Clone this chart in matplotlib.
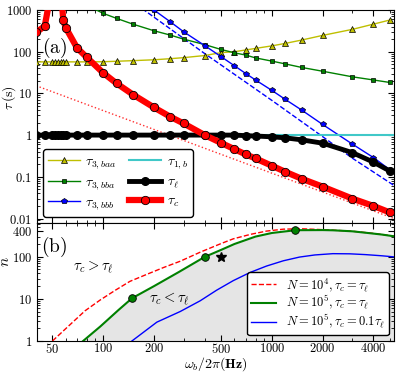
import numpy as np
import matplotlib
matplotlib.use('Agg')
import matplotlib.pyplot as plt
from matplotlib.ticker import FixedLocator, FuncFormatter, NullFormatter

plt.rcParams['mathtext.fontset'] = 'cm'
plt.rcParams['font.family'] = 'serif'
plt.rcParams['font.serif'] = ['DejaVu Serif']
plt.rcParams['axes.unicode_minus'] = False

nan = np.nan

# ---------------- panel (a) data ----------------
freq = [40, 45, 50, 52, 54, 56, 58, 60, 70, 80, 100, 120, 150, 200, 250, 300,
        400, 500, 600, 700, 800, 1000, 1200, 1500, 2000, 3000, 4000, 5000]
tau3_baa = [57, 57, 57, 57, 57, 57, 57, 57, 57, 57, 57.5, 59, 61, 64, 68, 72,
            81, 95, 100, 110, 120, 138, 158, 190, 246, 343, 458, 574]
tau3_bba = [nan, nan, nan, nan, nan, nan, nan, nan, nan, 1300, 830, 630, 458, 318, 250, 200,
            148, 113, 94, 83, 71, 59.5, 51, 42, 34, 25, 21, 18.3]
tau3_bbb = [nan, nan, nan, nan, nan, nan, nan, nan, nan, nan, nan, nan, nan, 1000, 521, 300,
            140, 76, 46, 30, 21, 11.8, 7.2, 4.0, 1.8, 0.61, 0.29, 0.148]
tau_l = [1, 1, 1, 1, 1, 1, 1, 1, 1, 1, 1, 1, 1, 1, 1, 1,
         1, 1, 1, 0.97, 0.95, 0.91, 0.86, 0.77, 0.64, 0.38, 0.225, 0.138]
tau_c = [290, 410, 4000, 30000, 30000, 3000, 575, 375, 123, 73, 31, 17.4, 9.4, 4.6, 2.75, 1.9,
         1.0, 0.65, 0.46, 0.345, 0.276, 0.184, 0.132, 0.09, 0.058, 0.030, 0.020, 0.014]
f_tau1b = [40, 5300]
tau1_b = [1, 1]
f_dash = [170, 400, 1000, 2000, 3000, 5300]
tau3_bbb_asym = [1080, 90, 6.8, 0.92, 0.28, 0.062]
f_dot = [40, 5300]
tau_c_asym = [15.3, 0.0100]

# ---------------- panel (b) data ----------------
f_N5 = [76, 96, 123, 148, 200, 280, 400, 500, 600, 800, 1000, 1380, 2000, 2300, 3000, 3600, 4500, 5300]
n_N5 = [1, 2.2, 5.4, 10.3, 20, 43, 99, 145, 200, 300, 365, 425, 428, 423, 400, 370, 335, 305]
f_N4 = [50, 64, 78, 96, 118, 144, 181, 227, 286, 376, 500, 590, 750, 930, 1170, 1500, 2000, 3000, 4000, 5300]
n_N4 = [1, 2.5, 5.2, 9.4, 16, 26, 38, 55, 78, 128, 205, 265, 340, 405, 450, 460, 438, 403, 357, 308]
f_N5b = [148, 208, 286, 376, 470, 590, 740, 930, 1170, 1460, 1800, 2300, 2900, 3600, 4500, 5300]
n_N5b = [1, 2.8, 5.0, 9, 16, 27, 42, 60, 80, 98, 110, 118, 117, 112, 105, 99]
f_pts = [148, 400, 1380]
n_pts = [10.3, 99, 425]
f_star = [500]
n_star = [100]

xticks = [50, 100, 200, 500, 1000, 2000, 4000]
yticks_a = [0.01, 0.1, 1, 10, 100, 1000]
yticks_b = [1, 10, 100, 400]

fig = plt.figure(figsize=(4.07, 3.73), dpi=100)
W, H = 407.0, 373.0
axa = fig.add_axes([37 / W, 1 - 223 / H, 357 / W, 213 / H])
axb = fig.add_axes([37 / W, 1 - 341 / H, 357 / W, 118 / H])

mathfmt = FuncFormatter(lambda v, p: r'$%g$' % v)

for ax in (axa, axb):
    ax.set_xscale('log')
    ax.set_yscale('log')
    ax.set_xlim(40.5, 5300)
    ax.tick_params(which='both', direction='in', top=True, right=True, labelsize=9)
    ax.tick_params(which='major', length=4.5, width=0.8)
    ax.tick_params(which='minor', length=2.5, width=0.6)
    ax.tick_params(axis='x', pad=1.0)
    ax.xaxis.set_major_locator(FixedLocator(xticks))
    ax.xaxis.set_major_formatter(mathfmt)
    ax.xaxis.set_minor_formatter(NullFormatter())
    ax.yaxis.set_minor_formatter(NullFormatter())

# ---------------- panel (a) ----------------
axa.set_ylim(0.0078, 1000)
axa.yaxis.set_major_locator(FixedLocator(yticks_a))
axa.yaxis.set_major_formatter(mathfmt)
axa.tick_params(labelbottom=False)

cyan = '#40c8c8'
axa.plot(f_dot, tau_c_asym, ':', color='#ff3030', lw=1.0, zorder=2)
axa.plot(f_dash, tau3_bbb_asym, '--', color='b', lw=1.0, zorder=2)
axa.plot(freq, tau3_baa, '-', color=(0.75, 0.75, 0), lw=1.0, marker='^', ms=4,
         mfc=(0.75, 0.75, 0), mec='k', mew=0.5, label=r'$\tau_{3,baa}$', zorder=3)
axa.plot(freq, tau3_bba, '-', color=(0, 0.5, 0), lw=1.0, marker='s', ms=3.5,
         mfc=(0, 0.5, 0), mec='k', mew=0.5, label=r'$\tau_{3,bba}$', zorder=3)
axa.plot(freq, tau3_bbb, '-', color='b', lw=1.0, marker='p', ms=4,
         mfc='b', mec='k', mew=0.5, label=r'$\tau_{3,bbb}$', zorder=3)
axa.plot(f_tau1b, tau1_b, '-', color=cyan, lw=1.5, label=r'$\tau_{1,b}$', zorder=3)
axa.plot(freq, tau_l, '-', color='k', lw=3.5, marker='o', ms=5.5,
         mfc='k', mec='k', label=r'$\tau_\ell$', zorder=4)
axa.plot(freq, tau_c, '-', color='r', lw=4.5, marker='o', ms=6,
         mfc='r', mec='k', mew=0.6, label=r'$\tau_c$', zorder=5)

axa.set_ylabel(r'$\tau\,(\mathrm{s})$', fontsize=10)
axa.yaxis.set_label_coords(-0.052, 0.59)
axa.text(0.048, 0.82, r'$\mathrm{(a)}$', transform=axa.transAxes, fontsize=14,
         ha='center', va='center')
leg = axa.legend(loc='lower left', bbox_to_anchor=(0.017, 0.028), borderaxespad=0,
                 ncol=2, numpoints=1, fontsize=10, handlelength=2.3, handletextpad=0.4,
                 fancybox=True, edgecolor='k', framealpha=1, columnspacing=0.9,
                 labelspacing=0.25, borderpad=0.35)
leg.get_frame().set_linewidth(1.0)

# ---------------- panel (b) ----------------
axb.set_ylim(1, 630)
axb.yaxis.set_major_locator(FixedLocator(yticks_b))
axb.yaxis.set_major_formatter(mathfmt)

axb.fill_between(f_N5, 1, n_N5, color='#e5e5e5', lw=0, zorder=1)
axb.plot(f_N4, n_N4, '--', color='r', lw=1.0, label=r'$N=10^4,\tau_c=\tau_\ell$', zorder=3)
axb.plot(f_N5, n_N5, '-', color=(0, 0.5, 0), lw=1.5, label=r'$N=10^5,\tau_c=\tau_\ell$', zorder=4)
axb.plot(f_N5b, n_N5b, '-', color='b', lw=1.0, label=r'$N=10^5,\tau_c=0.1\tau_\ell$', zorder=3)
axb.plot(f_pts, n_pts, 'o', color=(0, 0.5, 0), ms=5.5, mec='k', mew=0.6, zorder=5)
axb.plot(f_star, n_star, '*', color='k', ms=7, zorder=5)

axb.text(0.157, 0.62, r'$\tau_c>\tau_\ell$', transform=axb.transAxes, fontsize=10.5,
         ha='center', va='center')
axb.text(0.37, 0.35, r'$\tau_c<\tau_\ell$', transform=axb.transAxes, fontsize=10.5,
         ha='center', va='center')
axb.text(0.048, 0.80, r'$\mathrm{(b)}$', transform=axb.transAxes, fontsize=14,
         ha='center', va='center')
axb.set_ylabel(r'$\bar{n}$', fontsize=11)
axb.yaxis.set_label_coords(-0.068, 0.67)
axb.set_xlabel(r'$\omega_b/2\pi(\mathbf{Hz})$', fontsize=10)
axb.xaxis.set_label_coords(0.5, -0.12)
legb = axb.legend(loc='lower right', bbox_to_anchor=(0.985, 0.05), borderaxespad=0,
                  fontsize=9, handlelength=2.0, fancybox=True, edgecolor='k',
                  framealpha=1, labelspacing=0.05, borderpad=0.3)
legb.get_frame().set_linewidth(1.0)

fig.savefig('out.png', dpi=100)
